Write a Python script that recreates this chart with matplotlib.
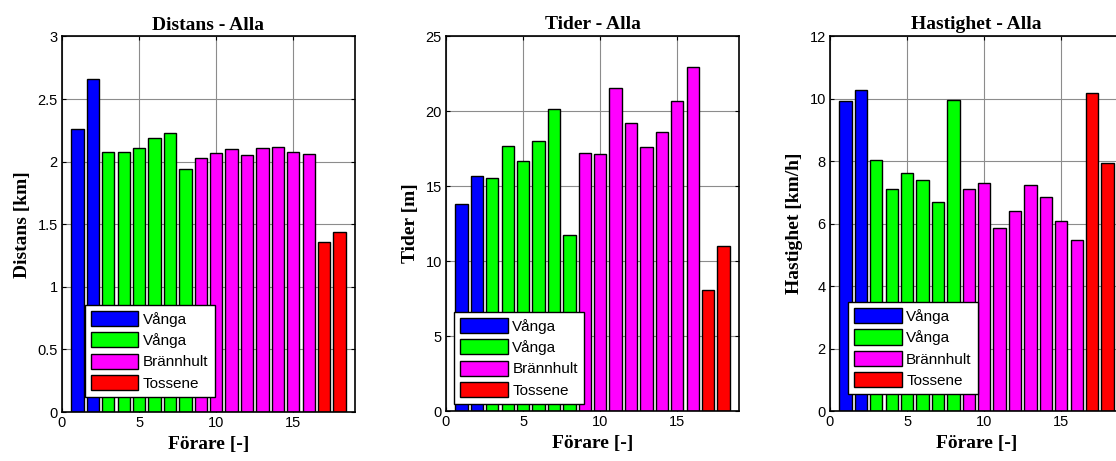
import matplotlib
matplotlib.use("Agg")
import matplotlib.pyplot as plt
from matplotlib.patches import Patch
import numpy as np

drivers = list(range(1, 19))
groups = ["Vånga", "Vånga", "Brännhult", "Tossene"]
group_colors = ["#0000ff", "#00ff00", "#ff00ff", "#ff0000"]
group_of_driver = [0, 0, 1, 1, 1, 1, 1, 1, 2, 2, 2, 2, 2, 2, 2, 2, 3, 3]

distans = [2.26, 2.66, 2.08, 2.08, 2.11, 2.19, 2.23, 1.94, 2.03, 2.07,
           2.10, 2.05, 2.11, 2.12, 2.08, 2.06, 1.36, 1.44]
tider = [13.78, 15.67, 15.56, 17.69, 16.69, 18.02, 20.11, 11.76, 17.22, 17.16,
         21.51, 19.22, 17.62, 18.62, 20.69, 22.93, 8.09, 10.98]
hastighet = [9.92, 10.26, 8.04, 7.11, 7.61, 7.38, 6.70, 9.96, 7.11, 7.30,
             5.87, 6.40, 7.22, 6.84, 6.07, 5.47, 10.18, 7.93]

titles = ["Distans - Alla", "Tider - Alla", "Hastighet - Alla"]
ylabels = ["Distans [km]", "Tider [m]", "Hastighet [km/h]"]
xlabel = "Förare [-]"
yticks_list = [[0, 0.5, 1, 1.5, 2, 2.5, 3], [0, 5, 10, 15, 20, 25], [0, 2, 4, 6, 8, 10, 12]]
xticks = [0, 5, 10, 15]

W, H = 1116, 461
fig = plt.figure(figsize=(W / 100, H / 100), dpi=100)

# axes rectangles in pixels: left, top, right, bottom
rects = [(62, 36.5, 355, 412), (446, 36, 739, 411), (830, 36, 1123, 411)]
leg_anchor = [(0.078, 0.04), (0.028, 0.019), (0.062, 0.045)]

serif = ["Liberation Serif", "DejaVu Serif"]
sans = ["Liberation Sans", "DejaVu Sans"]

for i, (data, title, ylab, yt) in enumerate(zip([distans, tider, hastighet], titles, ylabels, yticks_list)):
    l, t, r, b = rects[i]
    ax = fig.add_axes([l / W, (H - b) / H, (r - l) / W, (b - t) / H])
    colors = [group_colors[g] for g in group_of_driver]
    ax.bar(drivers, data, width=0.8, color=colors, edgecolor="black", linewidth=1.0, zorder=3)
    ax.set_xlim(0, 19)
    ax.set_ylim(yt[0], yt[-1])
    ax.set_xticks(xticks)
    ax.set_yticks(yt)
    ax.set_xticklabels([str(x) for x in xticks], fontfamily=sans, fontsize=10.5)
    ax.set_yticklabels([("%g" % y) for y in yt], fontfamily=sans, fontsize=10.5)
    ax.tick_params(direction="in", top=True, right=True, length=3, width=0.8, pad=3)
    ax.grid(True, color="#8c8c8c", linewidth=0.8, zorder=0)
    ax.set_axisbelow(True)
    for s in ax.spines.values():
        s.set_linewidth(1.2)
        s.set_zorder(5)
    ax.set_title(title, fontfamily=serif, fontweight="bold", fontsize=14, pad=5)
    ax.set_xlabel(xlabel, fontfamily=serif, fontweight="bold", fontsize=14, labelpad=4)
    ax.set_ylabel(ylab, fontfamily=serif, fontweight="bold", fontsize=14, labelpad=5)
    handles = [Patch(facecolor=c, edgecolor="black", linewidth=1.0) for c in group_colors]
    leg = ax.legend(handles, groups, loc="lower left", bbox_to_anchor=leg_anchor[i],
                    borderaxespad=0, prop={"family": sans, "size": 11},
                    handlelength=3.1, handleheight=1.15, handletextpad=0.3,
                    labelspacing=0.37, borderpad=0.4, fancybox=False,
                    framealpha=1, edgecolor="black")
    leg.get_frame().set_linewidth(1.0)
    leg.set_zorder(10)

fig.savefig("out.png", dpi=100)
